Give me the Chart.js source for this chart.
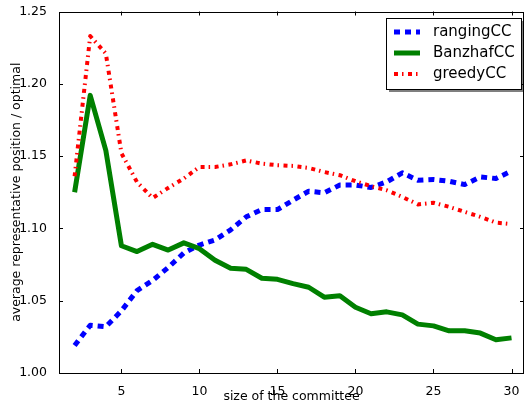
<!DOCTYPE html>
<html>
<head>
<meta charset="utf-8">
<script src="https://cdn.jsdelivr.net/npm/chart.js@4/dist/chart.umd.min.js"></script>
<style>
  html, body { margin: 0; padding: 0; background: #fff; }
  canvas { display: block; }
</style>
</head>
<body>
<canvas id="lineChart" width="526" height="404"></canvas>
<script>
const committeeSizes = [2, 3, 4, 5, 6, 7, 8, 9, 10, 11, 12, 13, 14, 15, 16, 17, 18, 19, 20, 21, 22, 23, 24, 25, 26, 27, 28, 29, 30];
const rangingCC = [1.019, 1.033, 1.032, 1.043, 1.057, 1.064, 1.073, 1.083, 1.0885, 1.092, 1.099, 1.108, 1.113, 1.113, 1.1195, 1.1257, 1.1246, 1.130, 1.130, 1.1283, 1.1322, 1.1384, 1.1333, 1.1338, 1.1326, 1.1303, 1.1356, 1.1345, 1.1397];
const banzhafCC = [1.125, 1.192, 1.154, 1.088, 1.084, 1.089, 1.085, 1.090, 1.086, 1.078, 1.0724, 1.0717, 1.0655, 1.0648, 1.0618, 1.0593, 1.0524, 1.0535, 1.0455, 1.041, 1.0423, 1.0402, 1.0338, 1.0326, 1.0292, 1.0292, 1.0276, 1.023, 1.0243];
const greedyCC = [1.136, 1.233, 1.221, 1.152, 1.132, 1.121, 1.128, 1.1345, 1.1425, 1.1425, 1.1443, 1.147, 1.1448, 1.1437, 1.1432, 1.1418, 1.139, 1.1368, 1.1326, 1.1292, 1.1264, 1.1218, 1.1166, 1.1177, 1.1149, 1.1114, 1.108, 1.104, 1.103];
const xTicks = [5, 10, 15, 20, 25, 30];
const yTicks = [1.00, 1.05, 1.10, 1.15, 1.20, 1.25];

const toPoints = (ys) => ys.map((y, i) => ({ x: committeeSizes[i], y: y }));
const fontFamily = '"DejaVu Sans", sans-serif';

// frame, inward ticks on all four sides, and the boxed legend inside the axes
const framePlugin = {
    id: 'frame',
    afterDraw(chart) {
        const ctx = chart.ctx;
        const area = chart.chartArea;
        const xs = chart.scales.x;
        const ys = chart.scales.y;
        ctx.save();
        ctx.strokeStyle = '#000';
        ctx.lineWidth = 1;
        ctx.beginPath();
        xTicks.forEach((t) => {
            const px = Math.round(xs.getPixelForValue(t)) + 0.5;
            ctx.moveTo(px, area.bottom);
            ctx.lineTo(px, area.bottom - 4);
            ctx.moveTo(px, area.top);
            ctx.lineTo(px, area.top + 4);
        });
        yTicks.forEach((t) => {
            const py = Math.round(ys.getPixelForValue(t)) + 0.5;
            ctx.moveTo(area.left, py);
            ctx.lineTo(area.left + 4, py);
            ctx.moveTo(area.right, py);
            ctx.lineTo(area.right - 4, py);
        });
        ctx.stroke();
        ctx.strokeRect(Math.round(area.left) + 0.5, Math.round(area.top) + 0.5,
            Math.round(area.right - area.left) - 1, Math.round(area.bottom - area.top) - 1);

        // legend
        const bx = 386, by = 18, bw = 135, bh = 71;
        ctx.fillStyle = 'rgba(0,0,0,0.5)';
        ctx.fillRect(bx + 3, by + 3, bw, bh);
        ctx.fillStyle = '#fff';
        ctx.fillRect(bx, by, bw, bh);
        ctx.strokeStyle = '#000';
        ctx.strokeRect(bx + 0.5, by + 0.5, bw, bh);
        ctx.font = '15px ' + fontFamily;
        ctx.textBaseline = 'middle';
        chart.data.datasets.forEach((ds, i) => {
            const ly = by + 14 + i * 21;
            ctx.save();
            ctx.strokeStyle = ds.borderColor;
            ctx.lineWidth = ds.borderWidth;
            ctx.setLineDash(ds.borderDash || []);
            ctx.lineCap = 'butt';
            ctx.beginPath();
            ctx.moveTo(bx + 8, ly);
            ctx.lineTo(bx + 34, ly);
            ctx.stroke();
            ctx.restore();
            ctx.fillStyle = '#000';
            ctx.fillText(ds.label, bx + 47, ly);
        });
        ctx.restore();
    },
};

const chartConfig = {
    type: 'line',
    data: {
        datasets: [
            {
                label: 'rangingCC',
                data: toPoints(rangingCC),
                borderColor: '#0000ff',
                borderWidth: 5,
                borderDash: [6, 5],
                order: 3,
            },
            {
                label: 'BanzhafCC',
                data: toPoints(banzhafCC),
                borderColor: '#008000',
                borderWidth: 5,
                order: 2,
            },
            {
                label: 'greedyCC',
                data: toPoints(greedyCC),
                borderColor: '#ff0000',
                borderWidth: 4,
                borderDash: [4, 4, 1.5, 4.5],
                order: 1,
            },
        ],
    },
    options: {
        responsive: false,
        animation: false,
        devicePixelRatio: 1,
        layout: { padding: { top: 11, right: 2, left: 0, bottom: 0 } },
        elements: {
            point: { radius: 0 },
            line: { tension: 0, fill: false, borderCapStyle: 'butt', borderJoinStyle: 'round' },
        },
        plugins: {
            legend: { display: false },
            tooltip: { enabled: false },
        },
        scales: {
            x: {
                type: 'linear',
                min: 1,
                max: 30.8,
                afterBuildTicks: (scale) => {
                    scale.ticks = xTicks.map((v) => ({ value: v }));
                },
                afterFit: (scale) => {
                    scale.height = 31;
                },
                grid: { display: false },
                border: { display: false },
                ticks: {
                    color: '#000',
                    font: { family: fontFamily, size: 12.5 },
                    padding: 3,
                    maxRotation: 0,
                },
                title: {
                    display: true,
                    text: 'size of the committee',
                    color: '#000',
                    font: { family: fontFamily, size: 12.5 },
                    padding: { top: 0, bottom: 0 },
                },
            },
            y: {
                min: 1.0,
                max: 1.25,
                afterBuildTicks: (scale) => {
                    scale.ticks = yTicks.map((v) => ({ value: v }));
                },
                afterFit: (scale) => {
                    scale.width = 59;
                },
                grid: { display: false },
                border: { display: false },
                ticks: {
                    color: '#000',
                    font: { family: fontFamily, size: 12.5 },
                    padding: 4,
                    callback: (v) => Number(v).toFixed(2),
                },
                title: {
                    display: true,
                    text: 'average representative position / optimal',
                    color: '#000',
                    font: { family: fontFamily, size: 12.5 },
                    padding: { top: 9, bottom: 2 },
                },
            },
        },
    },
    plugins: [framePlugin],
};

const ctx = document.getElementById('lineChart').getContext('2d');
new Chart(ctx, chartConfig);
</script>
</body>
</html>
